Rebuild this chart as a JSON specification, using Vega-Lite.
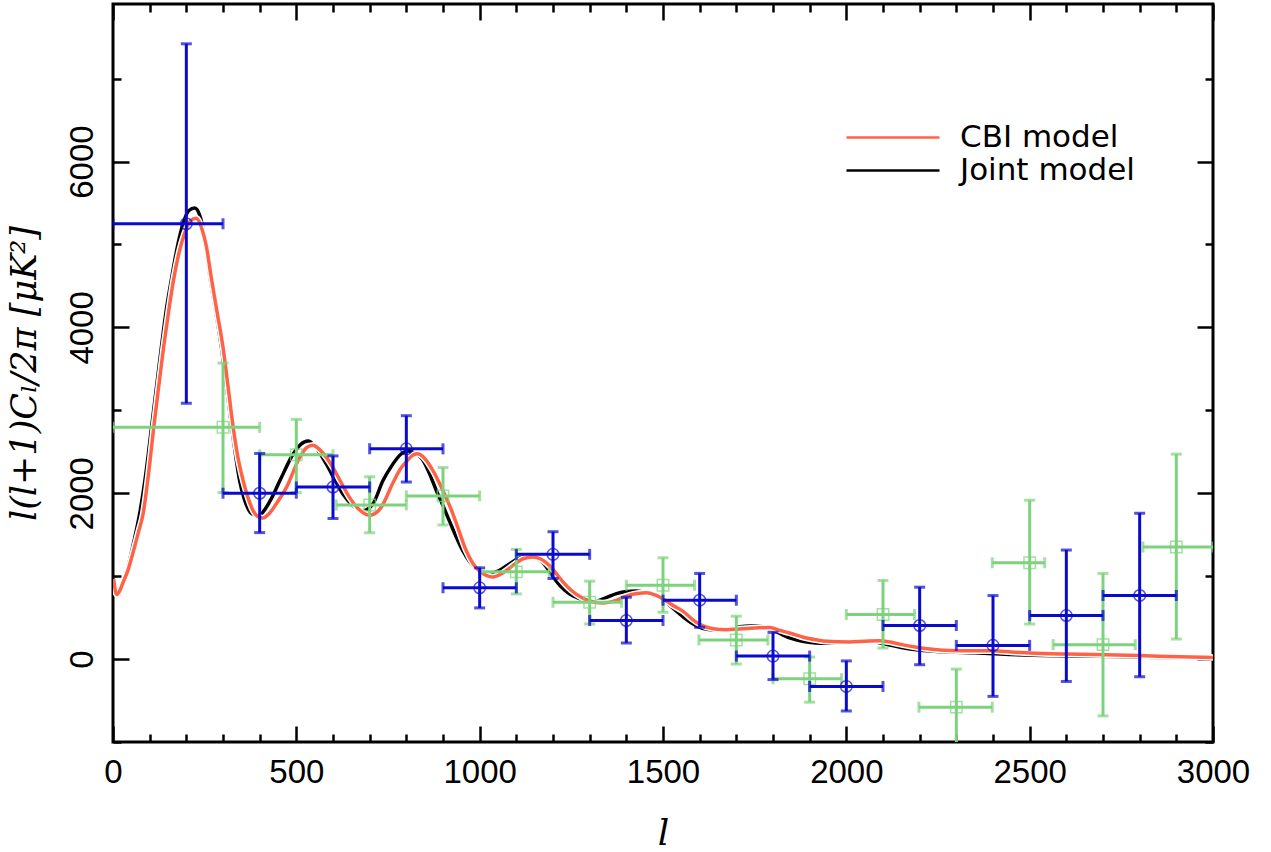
{
  "$schema": "https://vega.github.io/schema/vega-lite/v6.json",
  "width": 1100,
  "height": 738,
  "autosize": {"type": "none"},
  "padding": {"left": 113, "top": 4, "right": 58, "bottom": 110},
  "background": "white",
  "config": {
    "view": {"stroke": "black", "strokeWidth": 3},
    "legend": {
      "orient": "none", "legendX": 732, "legendY": 117, "title": null,
      "symbolType": "stroke", "symbolSize": 8649, "symbolStrokeWidth": 2.5,
      "clipHeight": 33, "rowPadding": 0, "padding": 0, "labelLimit": 0,
      "labelFont": "DejaVu Sans", "labelFontSize": 31, "labelColor": "black", "labelOffset": 19
    }
  },
  "datasets": {
    "curves": [
      {"model": "Joint model", "l": 2, "dl": 960}, {"model": "Joint model", "l": 6, "dl": 830}, {"model": "Joint model", "l": 10, "dl": 790},
      {"model": "Joint model", "l": 18, "dl": 830}, {"model": "Joint model", "l": 27, "dl": 930}, {"model": "Joint model", "l": 40, "dl": 1100},
      {"model": "Joint model", "l": 55, "dl": 1380}, {"model": "Joint model", "l": 73, "dl": 1760}, {"model": "Joint model", "l": 90, "dl": 2250},
      {"model": "Joint model", "l": 105, "dl": 2790}, {"model": "Joint model", "l": 120, "dl": 3330}, {"model": "Joint model", "l": 132, "dl": 3760},
      {"model": "Joint model", "l": 145, "dl": 4200}, {"model": "Joint model", "l": 159, "dl": 4570}, {"model": "Joint model", "l": 175, "dl": 4960},
      {"model": "Joint model", "l": 191, "dl": 5250}, {"model": "Joint model", "l": 207, "dl": 5410}, {"model": "Joint model", "l": 223, "dl": 5440},
      {"model": "Joint model", "l": 238, "dl": 5330}, {"model": "Joint model", "l": 250, "dl": 5080}, {"model": "Joint model", "l": 264, "dl": 4620},
      {"model": "Joint model", "l": 280, "dl": 4200}, {"model": "Joint model", "l": 296, "dl": 3750}, {"model": "Joint model", "l": 310, "dl": 3280},
      {"model": "Joint model", "l": 323, "dl": 2820}, {"model": "Joint model", "l": 335, "dl": 2440}, {"model": "Joint model", "l": 345, "dl": 2160},
      {"model": "Joint model", "l": 358, "dl": 1930}, {"model": "Joint model", "l": 370, "dl": 1800}, {"model": "Joint model", "l": 385, "dl": 1740},
      {"model": "Joint model", "l": 398, "dl": 1730}, {"model": "Joint model", "l": 412, "dl": 1790}, {"model": "Joint model", "l": 430, "dl": 1920},
      {"model": "Joint model", "l": 455, "dl": 2150}, {"model": "Joint model", "l": 491, "dl": 2470}, {"model": "Joint model", "l": 512, "dl": 2590},
      {"model": "Joint model", "l": 532, "dl": 2630}, {"model": "Joint model", "l": 552, "dl": 2560}, {"model": "Joint model", "l": 582, "dl": 2350},
      {"model": "Joint model", "l": 605, "dl": 2160}, {"model": "Joint model", "l": 627, "dl": 1990}, {"model": "Joint model", "l": 655, "dl": 1850},
      {"model": "Joint model", "l": 682, "dl": 1790}, {"model": "Joint model", "l": 710, "dl": 1880}, {"model": "Joint model", "l": 736, "dl": 2150},
      {"model": "Joint model", "l": 760, "dl": 2330}, {"model": "Joint model", "l": 785, "dl": 2470}, {"model": "Joint model", "l": 805, "dl": 2510},
      {"model": "Joint model", "l": 825, "dl": 2480}, {"model": "Joint model", "l": 845, "dl": 2400}, {"model": "Joint model", "l": 862, "dl": 2250},
      {"model": "Joint model", "l": 882, "dl": 2030}, {"model": "Joint model", "l": 900, "dl": 1850}, {"model": "Joint model", "l": 918, "dl": 1660},
      {"model": "Joint model", "l": 955, "dl": 1300}, {"model": "Joint model", "l": 990, "dl": 1090}, {"model": "Joint model", "l": 1020, "dl": 1030},
      {"model": "Joint model", "l": 1050, "dl": 1060}, {"model": "Joint model", "l": 1082, "dl": 1150}, {"model": "Joint model", "l": 1110, "dl": 1220},
      {"model": "Joint model", "l": 1132, "dl": 1245}, {"model": "Joint model", "l": 1155, "dl": 1220}, {"model": "Joint model", "l": 1173, "dl": 1160},
      {"model": "Joint model", "l": 1190, "dl": 1060}, {"model": "Joint model", "l": 1209, "dl": 940}, {"model": "Joint model", "l": 1232, "dl": 830},
      {"model": "Joint model", "l": 1255, "dl": 760}, {"model": "Joint model", "l": 1285, "dl": 715}, {"model": "Joint model", "l": 1318, "dl": 700},
      {"model": "Joint model", "l": 1345, "dl": 740}, {"model": "Joint model", "l": 1373, "dl": 790}, {"model": "Joint model", "l": 1400, "dl": 815},
      {"model": "Joint model", "l": 1427, "dl": 820}, {"model": "Joint model", "l": 1455, "dl": 800}, {"model": "Joint model", "l": 1491, "dl": 740},
      {"model": "Joint model", "l": 1515, "dl": 660}, {"model": "Joint model", "l": 1536, "dl": 580}, {"model": "Joint model", "l": 1560, "dl": 490},
      {"model": "Joint model", "l": 1591, "dl": 400}, {"model": "Joint model", "l": 1620, "dl": 360}, {"model": "Joint model", "l": 1650, "dl": 350},
      {"model": "Joint model", "l": 1680, "dl": 365}, {"model": "Joint model", "l": 1709, "dl": 390}, {"model": "Joint model", "l": 1740, "dl": 398},
      {"model": "Joint model", "l": 1764, "dl": 397}, {"model": "Joint model", "l": 1800, "dl": 350}, {"model": "Joint model", "l": 1845, "dl": 255},
      {"model": "Joint model", "l": 1880, "dl": 215}, {"model": "Joint model", "l": 1915, "dl": 195}, {"model": "Joint model", "l": 1946, "dl": 190},
      {"model": "Joint model", "l": 1990, "dl": 205}, {"model": "Joint model", "l": 2036, "dl": 222}, {"model": "Joint model", "l": 2080, "dl": 205},
      {"model": "Joint model", "l": 2118, "dl": 170}, {"model": "Joint model", "l": 2150, "dl": 140}, {"model": "Joint model", "l": 2191, "dl": 113},
      {"model": "Joint model", "l": 2240, "dl": 95}, {"model": "Joint model", "l": 2282, "dl": 85}, {"model": "Joint model", "l": 2350, "dl": 75},
      {"model": "Joint model", "l": 2420, "dl": 60}, {"model": "Joint model", "l": 2509, "dl": 45}, {"model": "Joint model", "l": 2600, "dl": 38},
      {"model": "Joint model", "l": 2736, "dl": 30}, {"model": "Joint model", "l": 2850, "dl": 20}, {"model": "Joint model", "l": 3000, "dl": 12},

      {"model": "CBI model", "l": 2, "dl": 960}, {"model": "CBI model", "l": 6, "dl": 830}, {"model": "CBI model", "l": 10, "dl": 780},
      {"model": "CBI model", "l": 18, "dl": 820}, {"model": "CBI model", "l": 27, "dl": 920}, {"model": "CBI model", "l": 40, "dl": 1060},
      {"model": "CBI model", "l": 55, "dl": 1290}, {"model": "CBI model", "l": 70, "dl": 1540}, {"model": "CBI model", "l": 82, "dl": 1750},
      {"model": "CBI model", "l": 96, "dl": 2200}, {"model": "CBI model", "l": 111, "dl": 2790}, {"model": "CBI model", "l": 125, "dl": 3300},
      {"model": "CBI model", "l": 138, "dl": 3760}, {"model": "CBI model", "l": 152, "dl": 4200}, {"model": "CBI model", "l": 165, "dl": 4570},
      {"model": "CBI model", "l": 180, "dl": 4900}, {"model": "CBI model", "l": 195, "dl": 5130}, {"model": "CBI model", "l": 210, "dl": 5280},
      {"model": "CBI model", "l": 227, "dl": 5315}, {"model": "CBI model", "l": 243, "dl": 5180}, {"model": "CBI model", "l": 255, "dl": 4970},
      {"model": "CBI model", "l": 268, "dl": 4600}, {"model": "CBI model", "l": 284, "dl": 4180}, {"model": "CBI model", "l": 300, "dl": 3760},
      {"model": "CBI model", "l": 314, "dl": 3280}, {"model": "CBI model", "l": 327, "dl": 2820}, {"model": "CBI model", "l": 340, "dl": 2450},
      {"model": "CBI model", "l": 355, "dl": 2150}, {"model": "CBI model", "l": 368, "dl": 1950}, {"model": "CBI model", "l": 382, "dl": 1790},
      {"model": "CBI model", "l": 395, "dl": 1720}, {"model": "CBI model", "l": 409, "dl": 1700}, {"model": "CBI model", "l": 425, "dl": 1750},
      {"model": "CBI model", "l": 445, "dl": 1870}, {"model": "CBI model", "l": 473, "dl": 2070}, {"model": "CBI model", "l": 509, "dl": 2430},
      {"model": "CBI model", "l": 528, "dl": 2550}, {"model": "CBI model", "l": 545, "dl": 2580}, {"model": "CBI model", "l": 565, "dl": 2520},
      {"model": "CBI model", "l": 600, "dl": 2310}, {"model": "CBI model", "l": 622, "dl": 2130}, {"model": "CBI model", "l": 645, "dl": 1950},
      {"model": "CBI model", "l": 672, "dl": 1800}, {"model": "CBI model", "l": 700, "dl": 1735}, {"model": "CBI model", "l": 730, "dl": 1820},
      {"model": "CBI model", "l": 764, "dl": 2130}, {"model": "CBI model", "l": 785, "dl": 2300}, {"model": "CBI model", "l": 800, "dl": 2380},
      {"model": "CBI model", "l": 815, "dl": 2450}, {"model": "CBI model", "l": 830, "dl": 2475}, {"model": "CBI model", "l": 850, "dl": 2420},
      {"model": "CBI model", "l": 873, "dl": 2270}, {"model": "CBI model", "l": 900, "dl": 2030}, {"model": "CBI model", "l": 920, "dl": 1830},
      {"model": "CBI model", "l": 937, "dl": 1630}, {"model": "CBI model", "l": 964, "dl": 1300}, {"model": "CBI model", "l": 982, "dl": 1150},
      {"model": "CBI model", "l": 1000, "dl": 1060}, {"model": "CBI model", "l": 1018, "dl": 1010}, {"model": "CBI model", "l": 1036, "dl": 990},
      {"model": "CBI model", "l": 1060, "dl": 1030}, {"model": "CBI model", "l": 1082, "dl": 1100}, {"model": "CBI model", "l": 1100, "dl": 1160},
      {"model": "CBI model", "l": 1118, "dl": 1210}, {"model": "CBI model", "l": 1145, "dl": 1230}, {"model": "CBI model", "l": 1165, "dl": 1210},
      {"model": "CBI model", "l": 1182, "dl": 1160}, {"model": "CBI model", "l": 1200, "dl": 1080}, {"model": "CBI model", "l": 1218, "dl": 980},
      {"model": "CBI model", "l": 1240, "dl": 870}, {"model": "CBI model", "l": 1264, "dl": 780}, {"model": "CBI model", "l": 1300, "dl": 700},
      {"model": "CBI model", "l": 1336, "dl": 677}, {"model": "CBI model", "l": 1370, "dl": 705}, {"model": "CBI model", "l": 1400, "dl": 760},
      {"model": "CBI model", "l": 1430, "dl": 790}, {"model": "CBI model", "l": 1455, "dl": 800}, {"model": "CBI model", "l": 1480, "dl": 770},
      {"model": "CBI model", "l": 1509, "dl": 700}, {"model": "CBI model", "l": 1530, "dl": 640}, {"model": "CBI model", "l": 1555, "dl": 575},
      {"model": "CBI model", "l": 1580, "dl": 480}, {"model": "CBI model", "l": 1600, "dl": 420}, {"model": "CBI model", "l": 1636, "dl": 367},
      {"model": "CBI model", "l": 1673, "dl": 355}, {"model": "CBI model", "l": 1700, "dl": 360}, {"model": "CBI model", "l": 1727, "dl": 368},
      {"model": "CBI model", "l": 1760, "dl": 378}, {"model": "CBI model", "l": 1791, "dl": 380}, {"model": "CBI model", "l": 1820, "dl": 345},
      {"model": "CBI model", "l": 1845, "dl": 315}, {"model": "CBI model", "l": 1885, "dl": 260}, {"model": "CBI model", "l": 1918, "dl": 232},
      {"model": "CBI model", "l": 1946, "dl": 214}, {"model": "CBI model", "l": 2009, "dl": 206}, {"model": "CBI model", "l": 2050, "dl": 215},
      {"model": "CBI model", "l": 2090, "dl": 222}, {"model": "CBI model", "l": 2120, "dl": 205}, {"model": "CBI model", "l": 2145, "dl": 180},
      {"model": "CBI model", "l": 2191, "dl": 142}, {"model": "CBI model", "l": 2240, "dl": 115}, {"model": "CBI model", "l": 2282, "dl": 103},
      {"model": "CBI model", "l": 2340, "dl": 100}, {"model": "CBI model", "l": 2400, "dl": 100}, {"model": "CBI model", "l": 2450, "dl": 85},
      {"model": "CBI model", "l": 2500, "dl": 73}, {"model": "CBI model", "l": 2600, "dl": 60}, {"model": "CBI model", "l": 2736, "dl": 50},
      {"model": "CBI model", "l": 2850, "dl": 35}, {"model": "CBI model", "l": 3000, "dl": 20}
    ],
    "circles": [
      {"l": 200, "dl": 5250, "lo": 3085, "hi": 7420, "l0": 0, "l1": 300},
      {"l": 400, "dl": 2000, "lo": 1525, "hi": 2480, "l0": 300, "l1": 500},
      {"l": 600, "dl": 2075, "lo": 1695, "hi": 2450, "l0": 500, "l1": 700},
      {"l": 800, "dl": 2535, "lo": 2135, "hi": 2935, "l0": 700, "l1": 900},
      {"l": 1000, "dl": 860, "lo": 617, "hi": 1100, "l0": 900, "l1": 1100},
      {"l": 1200, "dl": 1263, "lo": 972, "hi": 1536, "l0": 1100, "l1": 1300},
      {"l": 1400, "dl": 465, "lo": 195, "hi": 745, "l0": 1300, "l1": 1500},
      {"l": 1600, "dl": 710, "lo": 383, "hi": 1033, "l0": 1500, "l1": 1700},
      {"l": 1800, "dl": 36, "lo": -247, "hi": 322, "l0": 1700, "l1": 1900},
      {"l": 2000, "dl": -330, "lo": -626, "hi": -22, "l0": 1900, "l1": 2100},
      {"l": 2200, "dl": 405, "lo": -68, "hi": 867, "l0": 2100, "l1": 2300},
      {"l": 2400, "dl": 165, "lo": -450, "hi": 766, "l0": 2300, "l1": 2500},
      {"l": 2600, "dl": 525, "lo": -270, "hi": 1315, "l0": 2500, "l1": 2700},
      {"l": 2800, "dl": 767, "lo": -213, "hi": 1759, "l0": 2700, "l1": 2900}
    ],
    "squares": [
      {"l": 300, "dl": 2795, "lo": 2008, "hi": 3570, "l0": 0, "l1": 400},
      {"l": 500, "dl": 2464, "lo": 2008, "hi": 2891, "l0": 400, "l1": 600},
      {"l": 700, "dl": 1859, "lo": 1524, "hi": 2198, "l0": 609, "l1": 800},
      {"l": 900, "dl": 1968, "lo": 1617, "hi": 2310, "l0": 800, "l1": 1000},
      {"l": 1100, "dl": 1052, "lo": 786, "hi": 1323, "l0": 1000, "l1": 1190},
      {"l": 1300, "dl": 686, "lo": 423, "hi": 940, "l0": 1200, "l1": 1387},
      {"l": 1500, "dl": 891, "lo": 565, "hi": 1222, "l0": 1400, "l1": 1586},
      {"l": 1700, "dl": 230, "lo": -60, "hi": 517, "l0": 1598, "l1": 1786},
      {"l": 1900, "dl": -237, "lo": -520, "hi": 25, "l0": 1800, "l1": 1987},
      {"l": 2100, "dl": 537, "lo": 133, "hi": 948, "l0": 2000, "l1": 2186},
      {"l": 2300, "dl": -580, "lo": -1100, "hi": -121, "l0": 2198, "l1": 2398},
      {"l": 2500, "dl": 1161, "lo": 423, "hi": 1916, "l0": 2398, "l1": 2541},
      {"l": 2700, "dl": 174, "lo": -685, "hi": 1033, "l0": 2564, "l1": 2788},
      {"l": 2900, "dl": 1351, "lo": 242, "hi": 2472, "l0": 2809, "l1": 3000}
    ]
  },
  "resolve": {"axis": {"x": "independent", "y": "independent"}},
  "layer": [
    {
      "mark": {"type": "rule", "color": "black", "strokeWidth": 2.5},
      "encoding": {
        "y": {"datum": 0, "type": "quantitative", "scale": {"domain": [-1000, 7900], "nice": false, "zero": false}, "axis": null}
      }
    },
    {
      "data": {"name": "curves"},
      "transform": [{"filter": "datum.model === 'Joint model'"}],
      "mark": {"type": "line", "strokeWidth": 3.5, "interpolate": "monotone", "clip": true},
      "encoding": {
        "x": {
          "field": "l", "type": "quantitative",
          "scale": {"domain": [0, 3000], "nice": false, "zero": false},
          "axis": {
            "orient": "bottom",
            "values": [0, 100, 200, 300, 400, 500, 600, 700, 800, 900, 1000, 1100, 1200, 1300, 1400, 1500, 1600, 1700, 1800, 1900, 2000, 2100, 2200, 2300, 2400, 2500, 2600, 2700, 2800, 2900, 3000],
            "format": "d", "domain": false, "grid": false,
            "tickColor": "black", "tickWidth": 2.5,
            "tickSize": {"condition": {"test": "datum.value % 500 === 0", "value": -16}, "value": -8},
            "labelExpr": "datum.value % 500 === 0 ? datum.label : ''",
            "labelFlush": false, "labelOverlap": false,
            "labelFont": "Liberation Sans", "labelFontSize": 33, "labelColor": "black", "labelPadding": 30,
            "title": "l", "titleFont": "DejaVu Serif", "titleFontStyle": "italic", "titleFontWeight": "normal",
            "titleFontSize": 36, "titleColor": "black", "titlePadding": 19
          }
        },
        "y": {
          "field": "dl", "type": "quantitative",
          "scale": {"domain": [-1000, 7900], "nice": false, "zero": false},
          "axis": {
            "orient": "left",
            "values": [-1000, 0, 1000, 2000, 3000, 4000, 5000, 6000, 7000],
            "format": "d", "domain": false, "grid": false,
            "tickColor": "black", "tickWidth": 2.5,
            "tickSize": {"condition": {"test": "datum.value % 2000 === 0", "value": -16}, "value": -8},
            "labelExpr": "datum.value % 2000 === 0 ? datum.label : ''",
            "labelOverlap": false, "labelFlush": false,
            "labelAngle": 270, "labelAlign": "center", "labelBaseline": "alphabetic",
            "labelFont": "Liberation Sans", "labelFontSize": 33, "labelColor": "black", "labelPadding": 37,
            "title": "l(l+1)Cₗ/2π [μK²]", "titleFont": "DejaVu Serif", "titleFontStyle": "italic", "titleFontWeight": "normal",
            "titleFontSize": 35, "titleColor": "black", "titlePadding": 16
          }
        },
        "color": {
          "field": "model", "type": "nominal",
          "scale": {"domain": ["CBI model", "Joint model"], "range": ["#ff6347", "#000000"]},
          "legend": {"orient": "none", "legendX": 732, "legendY": 117}
        }
      }
    },
    {
      "data": {"name": "curves"},
      "transform": [{"filter": "datum.model === 'CBI model'"}],
      "mark": {"type": "line", "strokeWidth": 6.5, "color": "white", "interpolate": "monotone", "clip": true},
      "encoding": {
        "x": {"field": "l", "type": "quantitative", "axis": null},
        "y": {"field": "dl", "type": "quantitative", "axis": null}
      }
    },
    {
      "data": {"name": "curves"},
      "transform": [{"filter": "datum.model === 'CBI model'"}],
      "mark": {"type": "line", "strokeWidth": 3.5, "interpolate": "monotone", "clip": true},
      "encoding": {
        "x": {
          "field": "l", "type": "quantitative",
          "axis": {
            "orient": "top",
            "values": [0, 100, 200, 300, 400, 500, 600, 700, 800, 900, 1000, 1100, 1200, 1300, 1400, 1500, 1600, 1700, 1800, 1900, 2000, 2100, 2200, 2300, 2400, 2500, 2600, 2700, 2800, 2900, 3000],
            "domain": false, "grid": false, "labels": false, "title": null,
            "tickColor": "black", "tickWidth": 2.5,
            "tickSize": {"condition": {"test": "datum.value % 500 === 0", "value": -16}, "value": -8}
          }
        },
        "y": {
          "field": "dl", "type": "quantitative",
          "axis": {
            "orient": "right",
            "values": [-1000, 0, 1000, 2000, 3000, 4000, 5000, 6000, 7000],
            "domain": false, "grid": false, "labels": false, "title": null,
            "tickColor": "black", "tickWidth": 2.5,
            "tickSize": {"condition": {"test": "datum.value % 2000 === 0", "value": -16}, "value": -8}
          }
        },
        "color": {
          "field": "model", "type": "nominal",
          "scale": {"domain": ["CBI model", "Joint model"], "range": ["#ff6347", "#000000"]},
          "legend": {"orient": "none", "legendX": 732, "legendY": 117}
        }
      }
    },
    {
      "data": {"name": "squares"},
      "mark": {"type": "rule", "color": "#7dd37d", "strokeWidth": 3, "clip": true},
      "encoding": {
        "x": {"field": "l", "type": "quantitative", "axis": null},
        "y": {"field": "lo", "type": "quantitative", "axis": null},
        "y2": {"field": "hi"}
      }
    },
    {
      "data": {"name": "squares"},
      "mark": {"type": "rule", "color": "#7dd37d", "strokeWidth": 3, "clip": true},
      "encoding": {
        "x": {"field": "l0", "type": "quantitative", "axis": null},
        "x2": {"field": "l1"},
        "y": {"field": "dl", "type": "quantitative", "axis": null}
      }
    },
    {
      "data": {"name": "squares"},
      "transform": [{"fold": ["lo", "hi"], "as": ["end", "val"]}],
      "mark": {"type": "tick", "orient": "horizontal", "color": "#7dd37d", "size": 11, "thickness": 3, "clip": true},
      "encoding": {
        "x": {"field": "l", "type": "quantitative", "axis": null},
        "y": {"field": "val", "type": "quantitative", "axis": null}
      }
    },
    {
      "data": {"name": "squares"},
      "transform": [{"fold": ["l0", "l1"], "as": ["end", "val"]}],
      "mark": {"type": "tick", "orient": "vertical", "color": "#7dd37d", "size": 11, "thickness": 3, "clip": true},
      "encoding": {
        "x": {"field": "val", "type": "quantitative", "axis": null},
        "y": {"field": "dl", "type": "quantitative", "axis": null}
      }
    },
    {
      "data": {"name": "squares"},
      "mark": {"type": "point", "shape": "square", "filled": false, "color": "#7dd37d", "size": 130, "strokeWidth": 1.5, "clip": true},
      "encoding": {
        "x": {"field": "l", "type": "quantitative", "axis": null},
        "y": {"field": "dl", "type": "quantitative", "axis": null}
      }
    },
    {
      "data": {"name": "circles"},
      "mark": {"type": "rule", "color": "#0a0acd", "strokeWidth": 3, "clip": true},
      "encoding": {
        "x": {"field": "l", "type": "quantitative", "axis": null},
        "y": {"field": "lo", "type": "quantitative", "axis": null},
        "y2": {"field": "hi"}
      }
    },
    {
      "data": {"name": "circles"},
      "mark": {"type": "rule", "color": "#0a0acd", "strokeWidth": 3, "clip": true},
      "encoding": {
        "x": {"field": "l0", "type": "quantitative", "axis": null},
        "x2": {"field": "l1"},
        "y": {"field": "dl", "type": "quantitative", "axis": null}
      }
    },
    {
      "data": {"name": "circles"},
      "transform": [{"fold": ["lo", "hi"], "as": ["end", "val"]}],
      "mark": {"type": "tick", "orient": "horizontal", "color": "#0a0acd", "size": 11, "thickness": 3, "clip": true},
      "encoding": {
        "x": {"field": "l", "type": "quantitative", "axis": null},
        "y": {"field": "val", "type": "quantitative", "axis": null}
      }
    },
    {
      "data": {"name": "circles"},
      "transform": [{"fold": ["l0", "l1"], "as": ["end", "val"]}],
      "mark": {"type": "tick", "orient": "vertical", "color": "#0a0acd", "size": 11, "thickness": 3, "clip": true},
      "encoding": {
        "x": {"field": "val", "type": "quantitative", "axis": null},
        "y": {"field": "dl", "type": "quantitative", "axis": null}
      }
    },
    {
      "data": {"name": "circles"},
      "mark": {"type": "point", "shape": "circle", "filled": false, "color": "#0a0acd", "size": 135, "strokeWidth": 1.5, "clip": true},
      "encoding": {
        "x": {"field": "l", "type": "quantitative", "axis": null},
        "y": {"field": "dl", "type": "quantitative", "axis": null}
      }
    }
  ]
}
